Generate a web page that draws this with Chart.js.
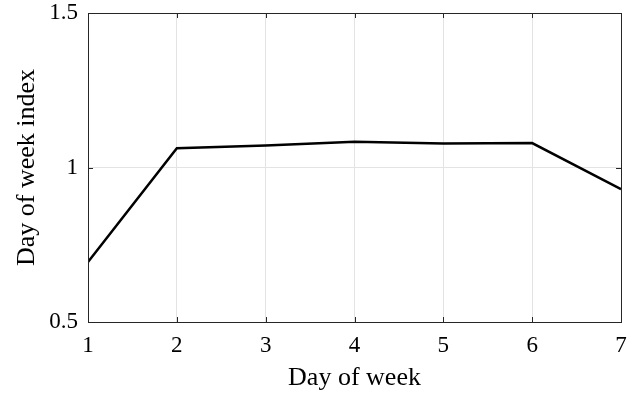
<!DOCTYPE html>
<html>
<head>
<meta charset="utf-8">
<script src="https://cdn.jsdelivr.net/npm/chart.js@4"></script>
<style>
  html, body { margin: 0; padding: 0; background: #ffffff; }
  #wrap { width: 640px; height: 396px; }
</style>
</head>
<body>
<div id="wrap"><canvas id="dowChart" width="640" height="396"></canvas></div>
<script>
// day of week index
const days = [1, 2, 3, 4, 5, 6, 7];
const dowIndex = [0.694, 1.062, 1.071, 1.083, 1.078, 1.079, 0.930];
const xTicks = [1, 2, 3, 4, 5, 6, 7];
const yTicks = [0.5, 1, 1.5];

const serif = "'Liberation Serif', 'DejaVu Serif', serif";

// MATLAB style box with inward tick marks
const boxTicks = {
    id: "boxTicks",
    afterDraw(chart) {
        const { ctx, chartArea: a, scales } = chart;
        const len = 5;
        ctx.save();
        ctx.strokeStyle = "#262626";
        ctx.lineWidth = 1;
        ctx.beginPath();
        xTicks.forEach(v => {
            const px = Math.round(scales.x.getPixelForValue(v)) + 0.5;
            ctx.moveTo(px, a.bottom); ctx.lineTo(px, a.bottom - len);
            ctx.moveTo(px, a.top); ctx.lineTo(px, a.top + len);
        });
        yTicks.forEach(v => {
            const py = Math.round(scales.y.getPixelForValue(v)) + 0.5;
            ctx.moveTo(a.left, py); ctx.lineTo(a.left + len, py);
            ctx.moveTo(a.right, py); ctx.lineTo(a.right - len, py);
        });
        ctx.stroke();
        ctx.strokeRect(Math.round(a.left) + 0.5, Math.round(a.top) + 0.5,
            Math.round(a.right - a.left), Math.round(a.bottom - a.top));
        ctx.restore();
    }
};

new Chart(document.getElementById("dowChart"), {
    type: "line",
    data: {
        datasets: [{
            data: days.map((d, i) => ({ x: d, y: dowIndex[i] })),
            borderColor: "#000000",
            borderWidth: 2.5,
            pointRadius: 0,
            tension: 0,
            fill: false
        }]
    },
    options: {
        responsive: false,
        animation: false,
        layout: { padding: { top: 13, right: 19, left: 0, bottom: 0 } },
        plugins: { legend: { display: false }, tooltip: { enabled: false } },
        scales: {
            x: {
                type: "linear",
                min: 1, max: 7,
                afterBuildTicks: s => { s.ticks = xTicks.map(v => ({ value: v })); },
                afterFit: s => { s.height = 74; s.paddingLeft = 0; s.paddingRight = 0; },
                grid: { color: "#e3e3e3", drawTicks: false },
                border: { display: false },
                ticks: { color: "#000", padding: 10, font: { family: serif, size: 23 } },
                title: {
                    display: true, text: "Day of week", color: "#000",
                    font: { family: serif, size: 26 }, padding: { top: 0, bottom: 2 }
                }
            },
            y: {
                min: 0.5, max: 1.5,
                afterBuildTicks: s => { s.ticks = yTicks.map(v => ({ value: v })); },
                afterFit: s => { s.width = 88; s.paddingTop = 0; s.paddingBottom = 0; },
                grid: { color: "#e3e3e3", drawTicks: false },
                border: { display: false },
                ticks: {
                    color: "#000", padding: 10, font: { family: serif, size: 23 },
                    callback: v => String(v)
                },
                title: {
                    display: true, text: "Day of week index", color: "#000",
                    font: { family: serif, size: 26 }, padding: { top: 12, bottom: 0 }
                }
            }
        }
    },
    plugins: [boxTicks]
});
</script>
</body>
</html>
